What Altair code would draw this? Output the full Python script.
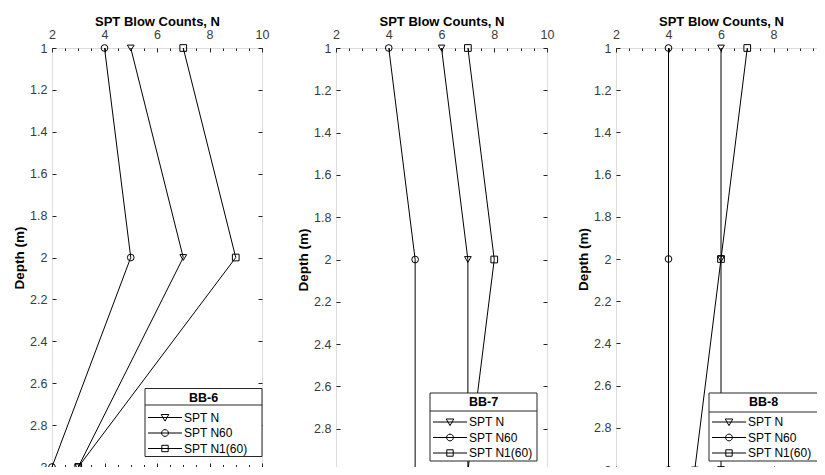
import altair as alt
import pandas as pd

# ---------------- data ----------------
depths = [1, 2, 3]
series_names = ["SPT N", "SPT N60", "SPT N1(60)"]
panel_names = ["BB-6", "BB-7", "BB-8"]

bb6_n = [5, 7, 3]
bb6_n60 = [4, 5, 2]
bb6_n160 = [7, 9, 3]

bb7_n = [6, 7, 7]
bb7_n60 = [4, 5, 5]
bb7_n160 = [7, 8, 7]

bb8_n = [6, 6, 5]
bb8_n60 = [4, 4, 4]
bb8_n160 = [7, 6, 6]

x_major = [2, 4, 6, 8, 10]
x_minor = [2 + 0.5 * i for i in range(17)]
y_ticks = [1, 1.2, 1.4, 1.6, 1.8, 2, 2.2, 2.4, 2.6, 2.8, 3]

FONT = "Liberation Sans"
TXT = "#262626"
LAB = "#3a3a3a"

point_shapes = ["triangle-down", "circle", "square"]
legend_paths = [
    "M-4.25,0H4.25M-0.95,-0.75H0.95L0,0.9Z",
    "M-4.25,0H4.25M0.85,0A0.85 0.85 0 1 1 -0.85,0A0.85 0.85 0 1 1 0.85,0Z",
    "M-4.25,0H4.25M-0.8,-0.8H0.8V0.8H-0.8Z",
]


def panel(name, n, n60, n160, w, h, box):
    bx, bx2, by, bsep, by2 = box
    df = pd.DataFrame({
        "depth": depths * 3,
        "value": n + n60 + n160,
        "series": [s for s in series_names for _ in depths],
    })
    base = alt.Chart(df)
    xs = alt.Scale(domain=[2, 10], nice=False, zero=False)
    ys = alt.Scale(domain=[1, 3], reverse=True, nice=False, zero=False)

    def X(axis):
        return alt.X("value:Q", scale=xs, axis=axis)

    def Y(axis):
        return alt.Y("depth:Q", scale=ys, axis=axis)

    tick_common = dict(labels=False, domain=False, grid=False, title=None, tickColor=TXT, tickWidth=1)

    ax_top_lab = alt.Axis(orient="top", values=x_major, ticks=False, domain=False, grid=False,
                          labelFlush=False, labelPadding=6.5, labelFontSize=12.5, labelColor=LAB,
                          labelFont=FONT, title="SPT Blow Counts, N", titleFontSize=13,
                          titleFontWeight="bold", titleColor="#000000", titleFont=FONT,
                          titlePadding=0)
    ax_top_maj = alt.Axis(orient="top", values=x_major, tickSize=4, offset=-4, **tick_common)
    ax_top_min = alt.Axis(orient="top", values=x_minor, tickSize=2.5, offset=-2.5, **tick_common)
    ax_bot_maj = alt.Axis(orient="bottom", values=x_major, tickSize=4, offset=-4, **tick_common)
    ax_bot_min = alt.Axis(orient="bottom", values=x_minor, tickSize=2.5, offset=-2.5, **tick_common)

    ax_left_lab = alt.Axis(orient="left", values=y_ticks, format="~g", ticks=False, domain=False,
                           grid=False, labelPadding=5, labelFontSize=12.5, labelColor=LAB,
                           labelFont=FONT, title="Depth (m)", titleFontSize=13.5,
                           titleFontWeight="bold", titleColor="#000000", titleFont=FONT,
                           titlePadding=3)
    ax_left_tick = alt.Axis(orient="left", values=y_ticks, tickSize=4, offset=-4, **tick_common)
    ax_right_tick = alt.Axis(orient="right", values=y_ticks, tickSize=4, offset=-4, **tick_common)

    lines = base.mark_line(color="black", strokeWidth=1).encode(
        x=X(ax_top_lab), y=Y(ax_left_lab), detail="series:N", order="depth:Q")
    points = base.mark_point(filled=False, color="black", size=45, strokeWidth=1, opacity=1).encode(
        x=X(ax_top_maj), y=Y(ax_left_tick),
        shape=alt.Shape("series:N", scale=alt.Scale(domain=series_names, range=point_shapes), legend=None))
    extra1 = base.mark_point(opacity=0, color="black", size=64, filled=False).encode(
        x=X(ax_top_min), y=Y(ax_right_tick),
        shape=alt.Shape("series:N", scale=alt.Scale(domain=series_names, range=legend_paths),
                        legend=alt.Legend(title=None, orient="none", legendX=bx + 14, legendY=by + 23,
                                          padding=0, symbolSize=64, symbolStrokeWidth=1,
                                          symbolStrokeColor="black", symbolFillColor="transparent",
                                          symbolOpacity=1, labelOffset=13, labelFontSize=12,
                                          labelFont=FONT, labelColor="#000000", rowPadding=3.5)))
    extra2 = base.mark_point(opacity=0).encode(x=X(ax_bot_maj), y=Y(None))
    extra3 = base.mark_point(opacity=0).encode(x=X(ax_bot_min), y=Y(None))

    one = alt.Chart(pd.DataFrame({"name": [name]}))
    box_rect = one.mark_rect(fill="white", stroke=TXT, strokeWidth=1).encode(
        x=alt.value(bx), x2=alt.value(bx2), y=alt.value(by), y2=alt.value(by2))
    sep = one.mark_rule(color=TXT, strokeWidth=1).encode(
        x=alt.value(bx), x2=alt.value(bx2), y=alt.value(bsep))
    title = one.mark_text(fontSize=12.5, fontWeight="bold", font=FONT, color="#000000",
                          baseline="middle", align="center").encode(
        text="name:N", x=alt.value((bx + bx2) / 2), y=alt.value(by + 9))

    return alt.layer(lines, points, extra1, extra2, extra3, box_rect, sep, title).resolve_axis(
        x="independent", y="independent").resolve_scale(shape="independent").properties(
        width=w, height=h)


p1 = panel(panel_names[0], bb6_n, bb6_n60, bb6_n160, 210, 419, (93, 210, 340.5, 357, 408.5))
p2 = panel(panel_names[1], bb7_n, bb7_n60, bb7_n160, 211, 423, (94, 201, 345, 363, 413))
p3 = panel(panel_names[2], bb8_n, bb8_n60, bb8_n160, 210, 422, (93, 202, 345, 364, 413))

right = alt.hconcat(p2, p3, spacing=21).resolve_scale(shape="independent").resolve_legend(shape="independent")
chart = alt.hconcat(p1, right, spacing=26).resolve_scale(shape="independent").resolve_legend(
    shape="independent").properties(
    autosize=alt.AutoSizeParams(type="none"),
    padding={"left": 44, "top": 40, "right": 765, "bottom": 419}
).configure_view(stroke=TXT, strokeWidth=1).configure(font=FONT)

chart.save("out.html", embed_options={"renderer": "svg", "actions": False})
